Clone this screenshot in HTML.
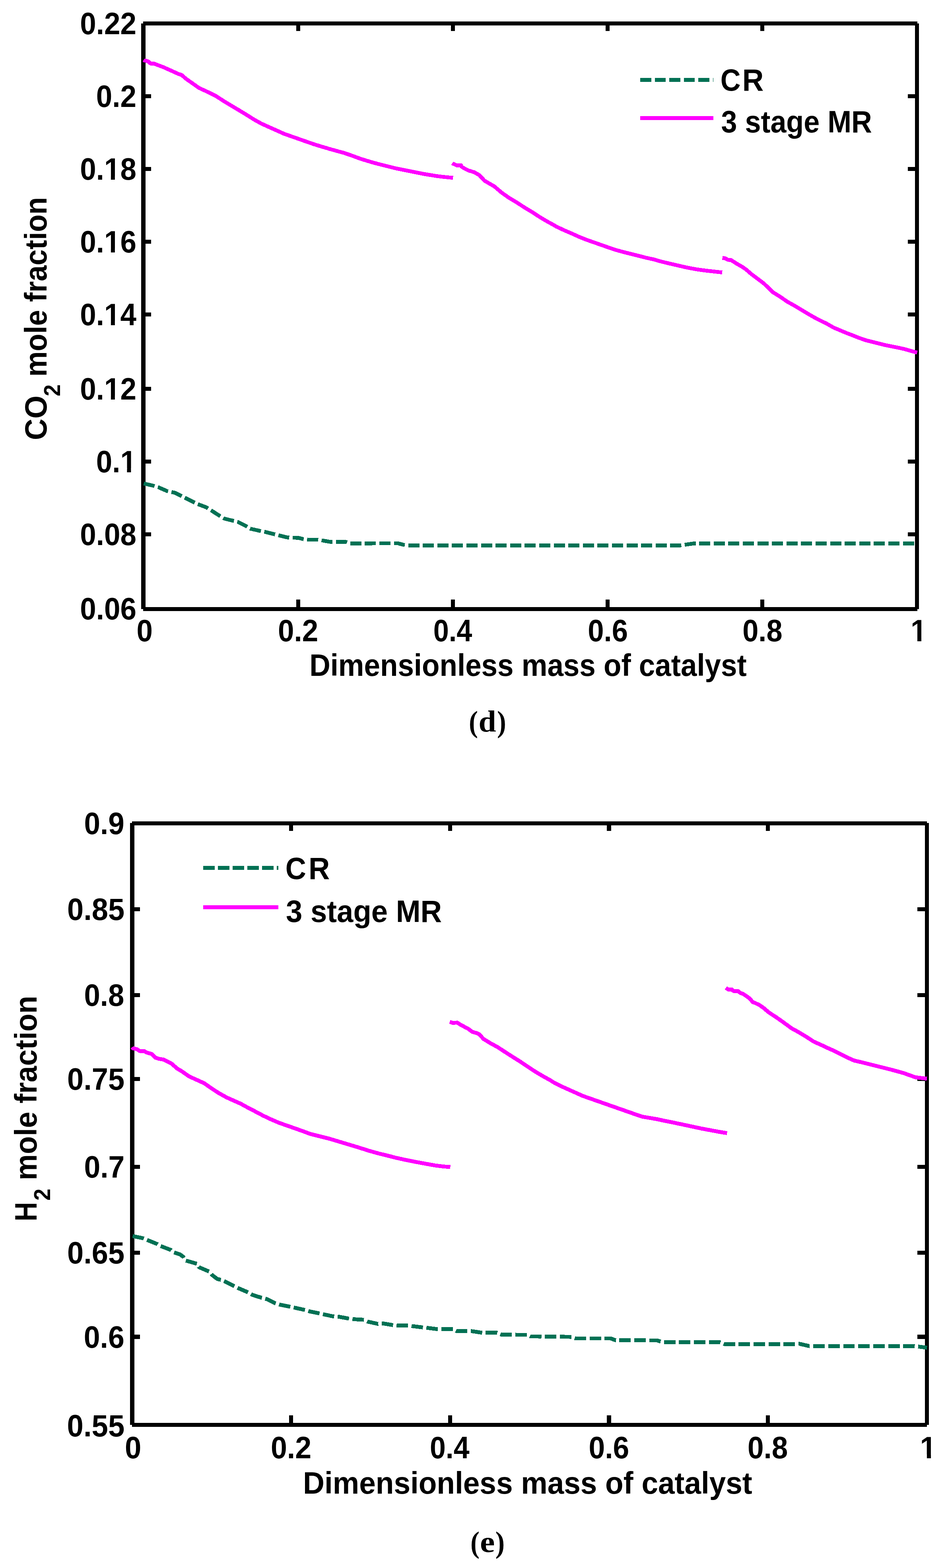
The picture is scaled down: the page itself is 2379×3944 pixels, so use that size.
<!DOCTYPE html>
<html><head><meta charset="utf-8"><title>CO2 and H2 mole fraction plots</title>
<style>html,body{margin:0;padding:0;background:#fff;}svg{display:block;}</style></head>
<body><svg width="2379" height="3944" viewBox="0 0 2379 3944">
<rect x="0" y="0" width="2379" height="3944" fill="#fff"/>
<rect x="360.00" y="54.00" width="1947.00" height="10.00" fill="#000"/>
<rect x="360.00" y="1527.00" width="1947.00" height="10.00" fill="#000"/>
<rect x="355.00" y="59.00" width="11.00" height="1473.00" fill="#000"/>
<rect x="2301.00" y="59.00" width="10.00" height="1473.00" fill="#000"/>
<rect x="366.00" y="237.00" width="14.00" height="10.00" fill="#000"/>
<rect x="2283.00" y="237.00" width="18.00" height="10.00" fill="#000"/>
<rect x="366.00" y="420.00" width="14.00" height="10.00" fill="#000"/>
<rect x="2283.00" y="420.00" width="18.00" height="10.00" fill="#000"/>
<rect x="366.00" y="603.00" width="14.00" height="10.00" fill="#000"/>
<rect x="2283.00" y="603.00" width="18.00" height="10.00" fill="#000"/>
<rect x="366.00" y="786.00" width="14.00" height="10.00" fill="#000"/>
<rect x="2283.00" y="786.00" width="18.00" height="10.00" fill="#000"/>
<rect x="366.00" y="973.00" width="14.00" height="10.00" fill="#000"/>
<rect x="2283.00" y="973.00" width="18.00" height="10.00" fill="#000"/>
<rect x="366.00" y="1156.00" width="14.00" height="10.00" fill="#000"/>
<rect x="2283.00" y="1156.00" width="18.00" height="10.00" fill="#000"/>
<rect x="366.00" y="1339.00" width="14.00" height="10.00" fill="#000"/>
<rect x="2283.00" y="1339.00" width="18.00" height="10.00" fill="#000"/>
<rect x="745.00" y="1508.00" width="10.00" height="19.00" fill="#000"/>
<rect x="745.00" y="64.00" width="10.00" height="14.00" fill="#000"/>
<rect x="1134.00" y="1508.00" width="10.00" height="19.00" fill="#000"/>
<rect x="1134.00" y="64.00" width="10.00" height="14.00" fill="#000"/>
<rect x="1523.00" y="1508.00" width="10.00" height="19.00" fill="#000"/>
<rect x="1523.00" y="64.00" width="10.00" height="14.00" fill="#000"/>
<rect x="1912.00" y="1508.00" width="10.00" height="19.00" fill="#000"/>
<rect x="1912.00" y="64.00" width="10.00" height="14.00" fill="#000"/>
<text font-family="'Liberation Sans', Arial, Helvetica, sans-serif" font-weight="bold" font-size="77.00" text-anchor="end" transform="translate(342.91,85.50) scale(0.9455,1)">0.22</text>
<text font-family="'Liberation Sans', Arial, Helvetica, sans-serif" font-weight="bold" font-size="77.00" text-anchor="end" transform="translate(342.91,268.80) scale(0.9455,1)">0.2</text>
<g transform="translate(342.91,452.00) scale(0.9455,1)"><clipPath id="c1f1"><rect x="-3000" y="-3000" width="6000" height="2990.64"/><rect x="-3000.00" y="-9.86" width="2917.70" height="3000"/><rect x="-67.68" y="-9.86" width="10.56" height="3000"/><rect x="-43.47" y="-9.86" width="3043.47" height="3000"/></clipPath><text font-family="'Liberation Sans', Arial, Helvetica, sans-serif" font-weight="bold" font-size="77.00" text-anchor="end" clip-path="url(#c1f1)">0.18</text></g>
<g transform="translate(342.91,634.60) scale(0.9455,1)"><clipPath id="c1f2"><rect x="-3000" y="-3000" width="6000" height="2990.64"/><rect x="-3000.00" y="-9.86" width="2917.70" height="3000"/><rect x="-67.68" y="-9.86" width="10.56" height="3000"/><rect x="-43.47" y="-9.86" width="3043.47" height="3000"/></clipPath><text font-family="'Liberation Sans', Arial, Helvetica, sans-serif" font-weight="bold" font-size="77.00" text-anchor="end" clip-path="url(#c1f2)">0.16</text></g>
<g transform="translate(342.91,817.70) scale(0.9455,1)"><clipPath id="c1f3"><rect x="-3000" y="-3000" width="6000" height="2990.64"/><rect x="-3000.00" y="-9.86" width="2917.70" height="3000"/><rect x="-67.68" y="-9.86" width="10.56" height="3000"/><rect x="-43.47" y="-9.86" width="3043.47" height="3000"/></clipPath><text font-family="'Liberation Sans', Arial, Helvetica, sans-serif" font-weight="bold" font-size="77.00" text-anchor="end" clip-path="url(#c1f3)">0.14</text></g>
<g transform="translate(342.91,1004.60) scale(0.9455,1)"><clipPath id="c1f4"><rect x="-3000" y="-3000" width="6000" height="2990.64"/><rect x="-3000.00" y="-9.86" width="2917.70" height="3000"/><rect x="-67.68" y="-9.86" width="10.56" height="3000"/><rect x="-43.47" y="-9.86" width="3043.47" height="3000"/></clipPath><text font-family="'Liberation Sans', Arial, Helvetica, sans-serif" font-weight="bold" font-size="77.00" text-anchor="end" clip-path="url(#c1f4)">0.12</text></g>
<g transform="translate(342.91,1187.90) scale(0.9455,1)"><clipPath id="c1f5"><rect x="-3000" y="-3000" width="6000" height="2990.64"/><rect x="-3000.00" y="-9.86" width="2960.53" height="3000"/><rect x="-24.85" y="-9.86" width="10.56" height="3000"/><rect x="-0.64" y="-9.86" width="3000.64" height="3000"/></clipPath><text font-family="'Liberation Sans', Arial, Helvetica, sans-serif" font-weight="bold" font-size="77.00" text-anchor="end" clip-path="url(#c1f5)">0.1</text></g>
<text font-family="'Liberation Sans', Arial, Helvetica, sans-serif" font-weight="bold" font-size="77.00" text-anchor="end" transform="translate(342.91,1371.00) scale(0.9455,1)">0.08</text>
<text font-family="'Liberation Sans', Arial, Helvetica, sans-serif" font-weight="bold" font-size="77.00" text-anchor="end" transform="translate(342.91,1558.00) scale(0.9455,1)">0.06</text>
<text font-family="'Liberation Sans', Arial, Helvetica, sans-serif" font-weight="bold" font-size="77.00" transform="translate(343.52,1613.00) scale(0.9448,1)">0</text>
<text font-family="'Liberation Sans', Arial, Helvetica, sans-serif" font-weight="bold" font-size="77.00" transform="translate(699.12,1613.00) scale(0.9454,1)">0.2</text>
<text font-family="'Liberation Sans', Arial, Helvetica, sans-serif" font-weight="bold" font-size="77.00" transform="translate(1089.67,1613.00) scale(0.9123,1)">0.4</text>
<text font-family="'Liberation Sans', Arial, Helvetica, sans-serif" font-weight="bold" font-size="77.00" transform="translate(1478.13,1613.00) scale(0.9426,1)">0.6</text>
<text font-family="'Liberation Sans', Arial, Helvetica, sans-serif" font-weight="bold" font-size="77.00" transform="translate(1867.14,1613.00) scale(0.9387,1)">0.8</text>
<g transform="translate(2310.26,1613.00) scale(0.9455,1)"><clipPath id="c1f6"><rect x="-3000" y="-3000" width="6000" height="2990.64"/><rect x="-3000.00" y="-9.86" width="2981.94" height="3000"/><rect x="-3.44" y="-9.86" width="10.56" height="3000"/><rect x="20.77" y="-9.86" width="2979.23" height="3000"/></clipPath><text font-family="'Liberation Sans', Arial, Helvetica, sans-serif" font-weight="bold" font-size="77.00" text-anchor="middle" clip-path="url(#c1f6)">1</text></g>
<text font-family="'Liberation Sans', Arial, Helvetica, sans-serif" font-weight="bold" font-size="77.00" transform="translate(778.13,1700.00) scale(0.9448,1)">Dimensionless mass of catalyst</text>
<text font-family="'Liberation Sans', Arial, Helvetica, sans-serif" font-weight="bold" font-size="77.00" transform="translate(117.00,1107.07) rotate(-90) scale(0.9724,1)">CO</text>
<text font-family="'Liberation Sans', Arial, Helvetica, sans-serif" font-weight="bold" font-size="57.30" transform="translate(151.00,996.66) rotate(-90) scale(0.9352,1)">2</text>
<text font-family="'Liberation Sans', Arial, Helvetica, sans-serif" font-weight="bold" font-size="77.00" transform="translate(117.00,947.55) rotate(-90) scale(0.9349,1)">mole fraction</text>
<polyline points="1610.0,201.0 1794.0,201.0" fill="none" stroke="#017154" stroke-width="9.6" stroke-linejoin="round" stroke-linecap="butt" shape-rendering="crispEdges" stroke-dasharray="27.5 9"/>
<polyline points="1610.0,296.9 1794.0,296.9" fill="none" stroke="#ff00ff" stroke-width="9.6" stroke-linejoin="round" stroke-linecap="butt" shape-rendering="crispEdges"/>
<text font-family="'Liberation Sans', Arial, Helvetica, sans-serif" font-weight="bold" font-size="77.00" transform="translate(1811.81,227.80) scale(0.9137,1)">C</text>
<text font-family="'Liberation Sans', Arial, Helvetica, sans-serif" font-weight="bold" font-size="77.00" transform="translate(1866.73,227.80) scale(0.9657,1)">R</text>
<text font-family="'Liberation Sans', Arial, Helvetica, sans-serif" font-weight="bold" font-size="77.00" transform="translate(1813.55,332.80) scale(0.9334,1)">3 stage MR</text>
<text font-family="'Liberation Serif', 'Times New Roman', serif" font-weight="bold" font-size="77.00" transform="translate(1178.97,1840.50) scale(0.8950,1)">(</text>
<text font-family="'Liberation Serif', 'Times New Roman', serif" font-weight="bold" font-size="77.00" transform="translate(1203.58,1839.90) scale(1.0325,1)">d</text>
<text font-family="'Liberation Serif', 'Times New Roman', serif" font-weight="bold" font-size="77.00" transform="translate(1249.89,1840.50) scale(0.8900,1)">)</text>
<polyline points="361.5,1216.2 386.1,1221.8 397.4,1225.2 420.0,1235.1 432.7,1237.9 439.8,1239.4 453.9,1246.4 468.1,1253.5 485.0,1262.0 496.3,1267.6 518.9,1276.1 530.2,1283.2 550.0,1295.9 564.2,1304.4 581.1,1308.6 598.1,1312.8 617.9,1322.7 629.2,1329.8 651.8,1334.9 665.9,1337.7 688.5,1343.4 699.8,1346.2 722.4,1351.8 736.6,1352.4 750.7,1353.0 762.0,1355.8 775.0,1357.5 798.8,1357.5 808.5,1359.1 831.0,1363.0 869.8,1363.0 879.5,1366.9 1000.6,1366.5 1015.0,1370.4 1025.0,1371.7 1711.6,1371.7 1719.6,1370.7 1745.5,1366.8 2306.0,1366.8" fill="none" stroke="#017154" stroke-width="9.6" stroke-linejoin="round" stroke-linecap="butt" shape-rendering="crispEdges" stroke-dasharray="27.9 8.7"/>
<polyline points="361.5,150.5 363.5,152.2 369.1,153.2 373.8,155.1 378.6,159.8 387.0,159.8 396.5,163.6 411.5,169.2 430.4,177.7 449.2,186.2 456.8,188.5 468.1,198.4 486.9,211.6 500.1,221.0 524.6,232.3 543.4,241.8 562.3,254.0 581.1,265.3 600.0,276.6 620.0,288.8 638.8,300.7 657.7,311.1 676.5,319.6 695.4,328.0 714.2,336.5 733.1,343.1 751.9,349.7 770.7,356.3 789.6,362.9 808.4,368.6 827.3,374.2 846.1,379.5 865.0,384.6 883.8,391.0 907.5,399.7 925.0,405.0 942.5,410.2 960.0,414.6 977.5,419.0 995.0,423.4 1012.5,426.9 1030.0,430.4 1047.5,433.9 1065.0,437.4 1082.5,440.3 1100.0,443.1 1117.5,445.2 1139.3,447.3" fill="none" stroke="#ff00ff" stroke-width="9.6" stroke-linejoin="round" stroke-linecap="butt" shape-rendering="crispEdges"/>
<polyline points="1137.5,410.5 1138.5,411.3 1148.8,416.0 1159.2,415.5 1160.1,418.8 1167.7,423.6 1179.0,429.2 1192.2,433.0 1205.4,440.5 1218.6,454.6 1229.9,461.2 1243.1,468.8 1261.9,484.8 1280.7,498.0 1299.6,509.3 1318.4,521.5 1337.3,532.8 1356.1,545.1 1375.0,556.4 1393.8,566.8 1400.0,570.4 1418.8,579.2 1437.7,587.3 1456.5,595.8 1475.4,603.3 1494.2,609.9 1513.1,616.5 1531.9,623.1 1550.7,629.3 1569.6,634.4 1588.4,639.1 1607.3,643.9 1626.1,648.6 1645.0,652.7 1660.0,657.2 1682.9,662.7 1705.8,668.0 1728.6,673.2 1751.5,677.5 1774.4,680.6 1797.3,683.2 1816.2,685.2" fill="none" stroke="#ff00ff" stroke-width="9.6" stroke-linejoin="round" stroke-linecap="butt" shape-rendering="crispEdges"/>
<polyline points="1816.6,648.9 1823.2,649.4 1830.7,653.6 1838.3,654.1 1845.8,658.8 1851.5,662.6 1866.5,671.1 1876.0,677.7 1889.1,689.0 1904.2,700.3 1919.3,711.6 1932.5,723.9 1943.8,735.2 1960.7,745.5 1979.6,758.7 1998.4,769.1 2017.3,780.4 2036.1,791.7 2055.0,802.4 2073.8,811.5 2080.0,814.6 2096.1,823.9 2112.3,830.7 2128.4,837.5 2144.6,843.6 2160.8,850.1 2176.9,855.7 2193.0,859.8 2209.2,863.8 2225.3,867.8 2241.5,871.1 2257.6,874.3 2273.8,877.8 2290.0,882.4 2306.5,887.0" fill="none" stroke="#ff00ff" stroke-width="9.6" stroke-linejoin="round" stroke-linecap="butt" shape-rendering="crispEdges"/>
<rect x="332.00" y="2066.00" width="1999.00" height="10.00" fill="#000"/>
<rect x="332.00" y="3579.00" width="1999.00" height="10.00" fill="#000"/>
<rect x="327.00" y="2070.00" width="11.00" height="1514.00" fill="#000"/>
<rect x="2326.00" y="2070.00" width="10.00" height="1514.00" fill="#000"/>
<rect x="338.00" y="2282.00" width="14.00" height="10.00" fill="#000"/>
<rect x="2307.00" y="2282.00" width="19.00" height="10.00" fill="#000"/>
<rect x="338.00" y="2498.00" width="14.00" height="10.00" fill="#000"/>
<rect x="2307.00" y="2498.00" width="19.00" height="10.00" fill="#000"/>
<rect x="338.00" y="2709.00" width="14.00" height="10.00" fill="#000"/>
<rect x="2307.00" y="2709.00" width="19.00" height="10.00" fill="#000"/>
<rect x="338.00" y="2930.00" width="14.00" height="10.00" fill="#000"/>
<rect x="2307.00" y="2930.00" width="19.00" height="10.00" fill="#000"/>
<rect x="338.00" y="3146.00" width="14.00" height="10.00" fill="#000"/>
<rect x="2307.00" y="3146.00" width="19.00" height="10.00" fill="#000"/>
<rect x="338.00" y="3357.00" width="14.00" height="11.00" fill="#000"/>
<rect x="2307.00" y="3357.00" width="19.00" height="11.00" fill="#000"/>
<rect x="727.00" y="3560.00" width="10.00" height="19.00" fill="#000"/>
<rect x="727.00" y="2076.00" width="10.00" height="14.00" fill="#000"/>
<rect x="1127.00" y="3560.00" width="10.00" height="19.00" fill="#000"/>
<rect x="1127.00" y="2076.00" width="10.00" height="14.00" fill="#000"/>
<rect x="1526.00" y="3560.00" width="11.00" height="19.00" fill="#000"/>
<rect x="1526.00" y="2076.00" width="11.00" height="14.00" fill="#000"/>
<rect x="1926.00" y="3560.00" width="10.00" height="19.00" fill="#000"/>
<rect x="1926.00" y="2076.00" width="10.00" height="14.00" fill="#000"/>
<text font-family="'Liberation Sans', Arial, Helvetica, sans-serif" font-weight="bold" font-size="78.00" transform="translate(211.42,2098.00) scale(0.9341,1)">0.9</text>
<text font-family="'Liberation Sans', Arial, Helvetica, sans-serif" font-weight="bold" font-size="78.00" transform="translate(168.97,2313.80) scale(0.9498,1)">0.85</text>
<text font-family="'Liberation Sans', Arial, Helvetica, sans-serif" font-weight="bold" font-size="78.00" transform="translate(211.43,2530.00) scale(0.9306,1)">0.8</text>
<text font-family="'Liberation Sans', Arial, Helvetica, sans-serif" font-weight="bold" font-size="78.00" transform="translate(168.97,2740.80) scale(0.9498,1)">0.75</text>
<text font-family="'Liberation Sans', Arial, Helvetica, sans-serif" font-weight="bold" font-size="78.00" transform="translate(211.40,2961.80) scale(0.9400,1)">0.7</text>
<text font-family="'Liberation Sans', Arial, Helvetica, sans-serif" font-weight="bold" font-size="78.00" transform="translate(168.97,3177.60) scale(0.9498,1)">0.65</text>
<text font-family="'Liberation Sans', Arial, Helvetica, sans-serif" font-weight="bold" font-size="78.00" transform="translate(210.69,3390.00) scale(0.9422,1)">0.6</text>
<text font-family="'Liberation Sans', Arial, Helvetica, sans-serif" font-weight="bold" font-size="78.00" transform="translate(168.56,3612.70) scale(0.9532,1)">0.55</text>
<text font-family="'Liberation Sans', Arial, Helvetica, sans-serif" font-weight="bold" font-size="78.00" transform="translate(314.06,3668.00) scale(0.9543,1)">0</text>
<text font-family="'Liberation Sans', Arial, Helvetica, sans-serif" font-weight="bold" font-size="78.00" transform="translate(680.89,3668.00) scale(0.9430,1)">0.2</text>
<text font-family="'Liberation Sans', Arial, Helvetica, sans-serif" font-weight="bold" font-size="78.00" transform="translate(1080.97,3668.00) scale(0.9187,1)">0.4</text>
<text font-family="'Liberation Sans', Arial, Helvetica, sans-serif" font-weight="bold" font-size="78.00" transform="translate(1480.40,3668.00) scale(0.9402,1)">0.6</text>
<text font-family="'Liberation Sans', Arial, Helvetica, sans-serif" font-weight="bold" font-size="78.00" transform="translate(1879.91,3668.00) scale(0.9364,1)">0.8</text>
<g transform="translate(2334.23,3668.00) scale(0.9500,1)"><clipPath id="c1f7"><rect x="-3000" y="-3000" width="6000" height="2990.54"/><rect x="-3000.00" y="-9.96" width="2981.72" height="3000"/><rect x="-3.48" y="-9.96" width="10.70" height="3000"/><rect x="21.02" y="-9.96" width="2978.98" height="3000"/></clipPath><text font-family="'Liberation Sans', Arial, Helvetica, sans-serif" font-weight="bold" font-size="78.00" text-anchor="middle" clip-path="url(#c1f7)">1</text></g>
<text font-family="'Liberation Sans', Arial, Helvetica, sans-serif" font-weight="bold" font-size="78.00" transform="translate(762.00,3757.00) scale(0.9582,1)">Dimensionless mass of catalyst</text>
<text font-family="'Liberation Sans', Arial, Helvetica, sans-serif" font-weight="bold" font-size="78.00" transform="translate(91.90,3072.11) rotate(-90) scale(0.8636,1)">H</text>
<text font-family="'Liberation Sans', Arial, Helvetica, sans-serif" font-weight="bold" font-size="57.30" transform="translate(126.00,3019.77) rotate(-90) scale(0.9425,1)">2</text>
<text font-family="'Liberation Sans', Arial, Helvetica, sans-serif" font-weight="bold" font-size="78.00" transform="translate(91.90,2968.67) rotate(-90) scale(0.9480,1)">mole fraction</text>
<polyline points="511.0,2183.0 700.0,2183.0" fill="none" stroke="#017154" stroke-width="9.8" stroke-linejoin="round" stroke-linecap="butt" shape-rendering="crispEdges" stroke-dasharray="29 8"/>
<polyline points="511.0,2282.0 700.0,2282.0" fill="none" stroke="#ff00ff" stroke-width="9.8" stroke-linejoin="round" stroke-linecap="butt" shape-rendering="crispEdges"/>
<text font-family="'Liberation Sans', Arial, Helvetica, sans-serif" font-weight="bold" font-size="78.00" transform="translate(717.84,2210.70) scale(0.9255,1)">C</text>
<text font-family="'Liberation Sans', Arial, Helvetica, sans-serif" font-weight="bold" font-size="78.00" transform="translate(775.96,2210.70) scale(0.9473,1)">R</text>
<text font-family="'Liberation Sans', Arial, Helvetica, sans-serif" font-weight="bold" font-size="78.00" transform="translate(719.09,2319.40) scale(0.9525,1)">3 stage MR</text>
<text font-family="'Liberation Serif', 'Times New Roman', serif" font-weight="bold" font-size="77.00" transform="translate(1183.07,3904.50) scale(0.8950,1)">(</text>
<text font-family="'Liberation Serif', 'Times New Roman', serif" font-weight="bold" font-size="77.00" transform="translate(1206.92,3904.00) scale(1.0930,1)">e</text>
<text font-family="'Liberation Serif', 'Times New Roman', serif" font-weight="bold" font-size="77.00" transform="translate(1245.73,3904.50) scale(0.9152,1)">)</text>
<polyline points="333.5,3109.1 360.8,3114.8 369.3,3118.6 394.7,3128.9 402.3,3133.6 429.6,3144.0 436.2,3149.6 453.1,3155.3 461.6,3161.9 466.3,3170.4 495.5,3178.9 500.2,3187.3 526.6,3198.6 532.3,3206.2 547.3,3217.5 558.7,3219.4 567.3,3224.0 590.8,3235.8 600.9,3240.8 624.5,3250.9 634.6,3257.0 658.1,3264.4 671.6,3267.8 691.8,3277.9 705.2,3281.9 732.2,3287.3 742.3,3289.6 769.2,3295.4 779.3,3298.7 806.2,3304.1 816.3,3306.5 836.5,3310.8 853.3,3312.2 876.9,3316.6 890.3,3318.2 915.3,3319.7 925.4,3324.5 950.7,3330.0 962.4,3328.8 989.4,3333.2 999.4,3333.8 1028.0,3333.8 1036.5,3335.5 1063.4,3338.9 1073.5,3339.9 1100.4,3343.3 1139.0,3343.3 1147.5,3348.0 1176.1,3348.0 1186.2,3348.3 1213.1,3352.3 1250.1,3352.3 1260.2,3356.7 1287.1,3356.7 1297.2,3357.4 1325.8,3357.4 1334.2,3361.4 1400.4,3362.1 1437.4,3362.7 1447.5,3366.4 1535.0,3366.4 1548.4,3371.1 1652.7,3371.5 1661.1,3374.5 1669.6,3376.2 1810.9,3376.2 1821.0,3380.6 2000.0,3381.0 2010.0,3380.0 2035.0,3385.8 2297.6,3385.8 2309.4,3387.1 2331.3,3389.8" fill="none" stroke="#017154" stroke-width="9.8" stroke-linejoin="round" stroke-linecap="butt" shape-rendering="crispEdges" stroke-dasharray="28.9 8.8"/>
<polyline points="332.5,2634.0 334.4,2637.0 343.8,2638.8 351.4,2643.6 362.7,2643.6 368.3,2647.3 381.5,2651.1 391.0,2660.5 400.4,2663.3 411.7,2665.2 430.5,2674.6 445.6,2687.8 456.9,2694.4 475.7,2707.6 494.6,2716.1 513.4,2724.6 532.3,2737.8 551.1,2750.0 570.0,2760.4 588.8,2768.9 605.0,2776.0 621.3,2785.0 641.5,2795.5 661.7,2806.2 681.9,2815.7 702.1,2824.4 722.3,2831.4 742.5,2838.5 762.7,2845.6 780.0,2852.1 804.2,2858.2 828.4,2864.2 852.7,2871.5 876.9,2878.8 901.1,2886.0 925.3,2893.8 949.6,2900.6 973.8,2906.6 998.0,2912.7 1022.2,2918.0 1046.5,2922.8 1070.7,2927.2 1094.9,2931.6 1119.1,2934.5 1132.5,2935.0" fill="none" stroke="#ff00ff" stroke-width="9.8" stroke-linejoin="round" stroke-linecap="butt" shape-rendering="crispEdges"/>
<polyline points="1131.0,2570.5 1138.8,2572.9 1150.1,2572.3 1157.7,2577.2 1169.0,2583.3 1176.5,2587.0 1187.8,2595.5 1199.1,2598.7 1204.8,2601.2 1216.1,2613.4 1233.1,2623.8 1251.9,2634.1 1270.7,2646.4 1289.6,2658.6 1308.4,2670.3 1327.3,2683.1 1346.1,2695.4 1365.0,2706.7 1383.8,2717.1 1390.0,2721.2 1408.8,2731.1 1427.7,2739.6 1446.5,2748.0 1465.4,2756.5 1484.2,2763.1 1503.1,2769.7 1521.9,2776.3 1540.7,2782.9 1559.6,2789.5 1578.4,2796.1 1597.3,2802.7 1616.1,2808.9 1635.0,2812.1 1653.8,2815.3 1660.0,2816.8 1685.6,2822.0 1711.1,2827.3 1736.7,2832.8 1762.3,2838.3 1787.9,2843.1 1813.4,2847.8 1828.3,2850.1" fill="none" stroke="#ff00ff" stroke-width="9.8" stroke-linejoin="round" stroke-linecap="butt" shape-rendering="crispEdges"/>
<polyline points="1825.5,2484.7 1831.3,2488.8 1840.7,2488.8 1844.5,2492.6 1855.8,2492.6 1861.5,2497.3 1869.0,2500.1 1880.3,2507.7 1886.0,2512.4 1893.5,2520.9 1899.1,2522.8 1910.4,2528.4 1919.9,2535.0 1933.1,2546.3 1951.9,2558.6 1970.7,2571.8 1989.6,2585.9 2008.4,2596.2 2027.3,2607.6 2046.1,2619.8 2065.0,2628.3 2080.0,2635.4 2097.5,2643.2 2115.0,2652.0 2132.5,2660.7 2148.2,2667.7 2167.5,2672.1 2185.0,2676.5 2202.5,2680.9 2220.0,2685.2 2237.5,2689.6 2255.0,2694.3 2272.5,2699.2 2290.0,2705.4 2302.2,2709.7 2316.2,2711.5 2331.0,2713.2" fill="none" stroke="#ff00ff" stroke-width="9.8" stroke-linejoin="round" stroke-linecap="butt" shape-rendering="crispEdges"/>
</svg></body></html>
